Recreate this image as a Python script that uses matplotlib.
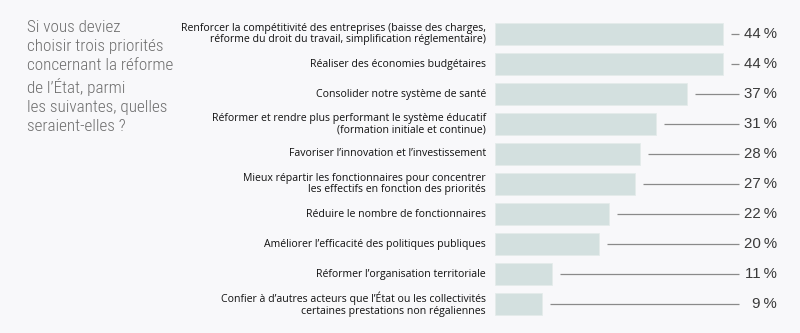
import matplotlib.pyplot as plt
from matplotlib import font_manager

# Data
categories = [
    "Renforcer la compétitivité des entreprises (baisse des charges,\nréforme du droit du travail, simplification réglementaire)",
    "Réaliser des économies budgétaires",
    "Consolider notre système de santé",
    "Réformer et rendre plus performant le système éducatif\n(formation initiale et continue)",
    "Favoriser l’innovation et l’investissement",
    "Mieux répartir les fonctionnaires pour concentrer\nles effectifs en fonction des priorités",
    "Réduire le nombre de fonctionnaires",
    "Améliorer l’efficacité des politiques publiques",
    "Réformer l’organisation territoriale",
    "Confier à d’autres acteurs que l’État ou les collectivités\ncertaines prestations non régaliennes",
]
values = [44, 44, 37, 31, 28, 27, 22, 20, 11, 9]
question = "Si vous deviez\nchoisir trois priorités\nconcernant la réforme\nde l’État, parmi\nles suivantes, quelles\nseraient-elles ?"

bg = "#f8f8fa"
bar_color = "#d3e0df"

# condensed font for the question, if one is around
names = {f.name for f in font_manager.fontManager.ttflist}
narrow = "DejaVu Sans"
title_size = 10
for cand in ["Roboto Condensed", "Open Sans Condensed", "Archivo Narrow", "Asap Condensed",
             "Liberation Sans Narrow"]:
    if cand in names:
        narrow = cand
        title_size = 12.3
        break

fig = plt.figure(figsize=(8, 3.33), dpi=100, facecolor=bg)
# axes starts at the bar origin (495 px) and covers the full height
ax = fig.add_axes([495 / 800, 0, 305 / 800, 1])
ax.set_facecolor(bg)
ax.set_xlim(0, 305 / 5.18)
ax.set_ylim((333 - 34) / 30, -34 / 30)
ax.axis("off")

y = list(range(len(values)))
ax.barh(y, values, height=22 / 30, color=bar_color, edgecolor="#e4ecea", linewidth=0.6)

line_end = (739 - 495) / 5.18
label_x = (777 - 495) / 5.18
for yi, v, cat in zip(y, values, categories):
    ax.plot([v + 1.6, line_end], [yi, yi], color="#8a8a8a", lw=0.9, solid_capstyle="butt")
    ax.text(label_x, yi, f"{v}\u2009%", ha="right", va="center", fontsize=10.8,
            color="#3a3a3a", family="Liberation Sans")
    ax.text(-9 / 5.18, yi, cat, ha="right", va="center", fontsize=7.6,
            color="#111111", family="Open Sans", linespacing=1.1, clip_on=False)

fig.text(27 / 800, 1 - 20 / 333, question, ha="left", va="top", fontsize=title_size,
         color="#6e6e6e", family=narrow, weight="light", linespacing=1.33)

fig.savefig("out.png", dpi=100, facecolor=bg)
